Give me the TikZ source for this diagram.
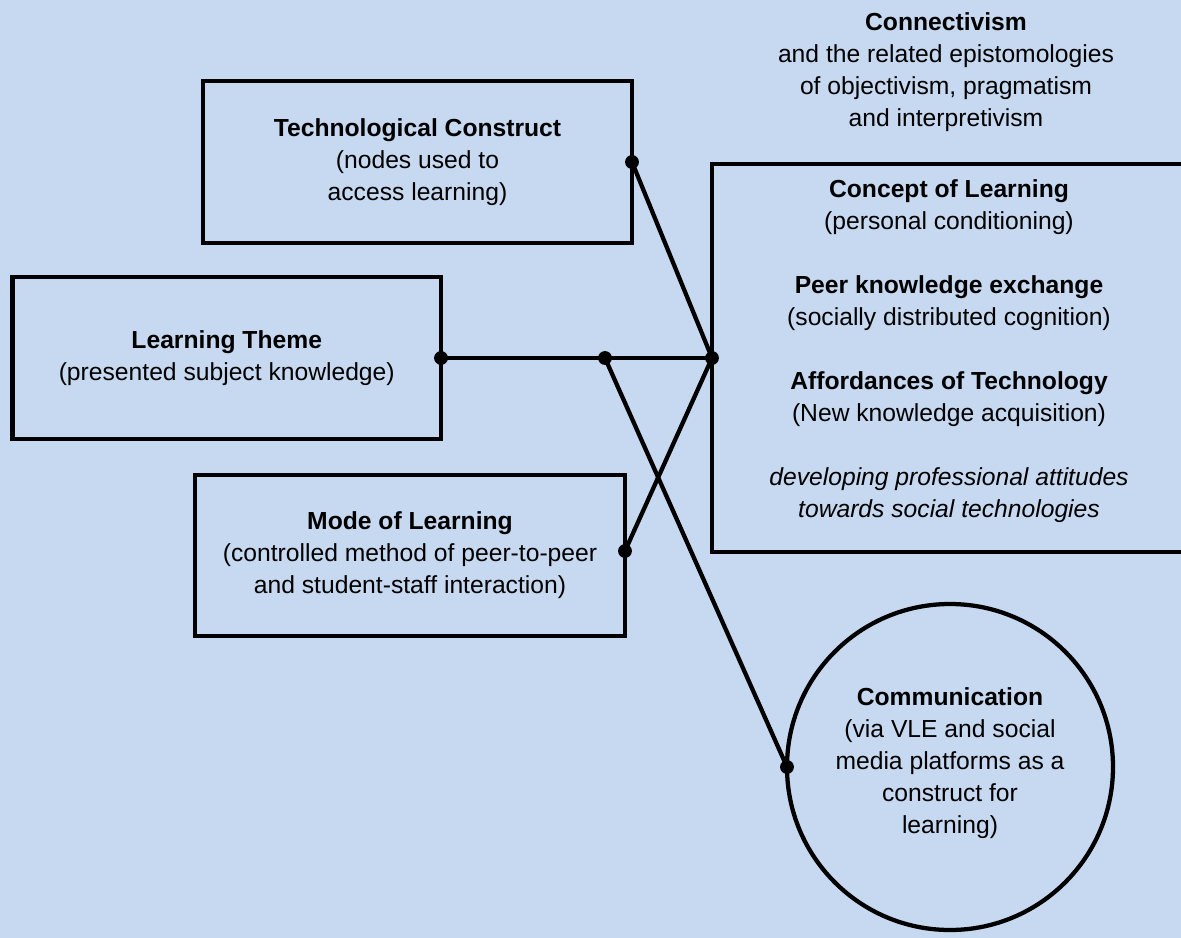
\documentclass[tikz,border=0pt]{standalone}
\usepackage{fontspec}
\setmainfont{Liberation Sans}
\definecolor{bgblue}{RGB}{198,217,240}
\begin{document}
\begin{tikzpicture}[x=0.75pt,y=-0.75pt,
  every node/.style={font=\fontsize{18.5}{24}\selectfont, align=center, inner sep=0pt, outer sep=0pt},
  frame/.style={draw=black, line width=3.4pt, rectangle},
  ring/.style={draw=black, line width=3.2pt, circle, minimum size=244.5pt},
  link/.style={draw=black, line width=3.2pt},
  joint/.style={fill=black}
]
\fill[bgblue] (0,0) rectangle (1181,938);
\useasboundingbox (0,0) rectangle (1181,938);
\clip (0,0) rectangle (1181,938);

% header text
\node (head) at (946,72) {\textbf{Connectivism}\\and the related epistomologies\\of objectivism, pragmatism\\and interpretivism};

% boxes
\node[frame, minimum width=321.75pt, minimum height=121.5pt] (tech) at (417.5,162)
  {\textbf{Technological Construct}\\(nodes used to\\access learning)};
\node[frame, minimum width=321.4pt, minimum height=121.5pt] (theme) at (226.75,358)
  {\textbf{Learning Theme}\\(presented subject knowledge)};
\node[frame, minimum width=322.5pt, minimum height=120.75pt] (mode) at (410,555.5)
  {\textbf{Mode of Learning}\\(controlled method of peer-to-peer\\and student-staff interaction)};
\node[frame, minimum width=366pt, minimum height=291pt] (concept) at (956,358) {};
\node (concepttext) at (949,351)
  {\textbf{Concept of Learning}\\(personal conditioning)\\[24pt]
   \textbf{Peer knowledge exchange}\\(socially distributed cognition)\\[24pt]
   \textbf{Affordances of Technology}\\(New knowledge acquisition)\\[24pt]
   \textit{developing professional attitudes}\\\textit{towards social technologies}};
\node[ring] (comm) at (950,767) {};
\node (commtext) at (950,763)
  {\textbf{Communication}\\(via VLE and social\\media platforms as a\\construct for\\learning)};

% connector end points
\coordinate (modept) at (625,551);
\coordinate (hub) at (605,358);

% connectors
\draw[link] (tech.east) -- (concept.west);
\draw[link] (theme.east) -- (concept.west);
\draw[link] (modept) -- (concept.west);
\draw[link] (hub) -- (comm.west);

% joints
\foreach \p in {tech.east, theme.east, concept.west, modept, hub, comm.west}
  \fill[joint] (\p) circle (5.2pt);
\end{tikzpicture}
\end{document}
